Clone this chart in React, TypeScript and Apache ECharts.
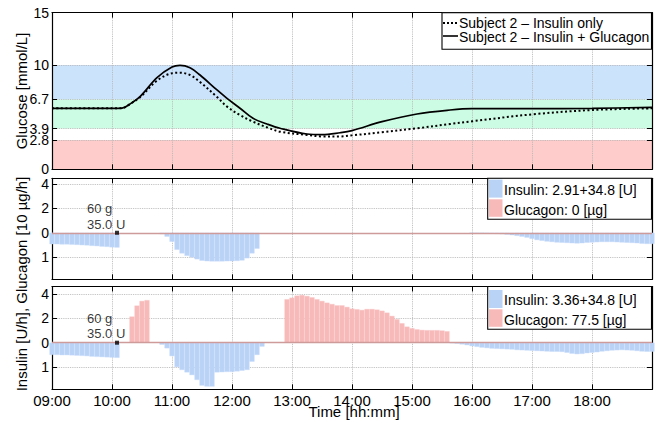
import React, { useEffect, useRef } from "react";
import * as echarts from "echarts";

const FONT = "'Liberation Sans', Arial, Helvetica, sans-serif";

// ---------------- data ----------------
const xTickLabels = ["09:00", "10:00", "11:00", "12:00", "13:00", "14:00", "15:00", "16:00", "17:00", "18:00"];
const glucoseTicks = [0, 2.8, 3.9, 6.7, 10, 15];
const rateTicks = [-2, 0, 2, 4]; // plotted positions; negative side is insulin (scaled x2)
const insulinScale = 2;

// glucose curves (mmol/L)
const glucoseTimes = ["09:00", "10:00", "10:10", "10:18", "10:28", "10:45", "11:00", "11:08", "11:18", "11:28", "11:45", "11:55", "12:08", "12:21", "12:35", "12:48", "13:15", "13:30", "13:48", "14:00", "14:30", "15:05", "15:38", "16:00", "17:00", "18:00", "19:00"];
const glucoseInsulinGlucagon = [5.84, 5.84, 5.86, 6.25, 6.96, 8.78, 9.8, 9.96, 9.73, 9.03, 7.6, 6.8, 5.85, 4.88, 4.34, 3.93, 3.38, 3.32, 3.5, 3.7, 4.56, 5.3, 5.68, 5.81, 5.81, 5.84, 5.94];
const glucoseInsulinOnly = [5.84, 5.84, 5.86, 6.25, 6.9, 8.49, 9.2, 9.25, 9.03, 8.36, 6.93, 6.0, 5.2, 4.56, 4.02, 3.6, 3.29, 3.15, 3.15, 3.25, 3.55, 3.93, 4.34, 4.6, 5.26, 5.68, 5.84];

// glycemic bands
const bandHypo = [0, 2.8];
const bandNormal = [3.9, 6.7];
const bandHigh = [6.7, 10];

// 5-minute rate samples (insulin U/h, glucagon 10 µg/h)
const midInsulinSeg1Start = "09:00";
const midInsulinSeg1 = [0.47, 0.47, 0.48, 0.48, 0.49, 0.5, 0.51, 0.52, 0.54, 0.55, 0.57, 0.58, 0.6, 0.61];
const midInsulinSeg2Start = "10:50";
const midInsulinSeg2 = [0.06, 0.16, 0.37, 0.7, 0.85, 0.95, 1.01, 1.09, 1.15, 1.17, 1.18, 1.18, 1.18, 1.17, 1.17, 1.16, 1.14, 1.05, 0.85, 0.66];
const midInsulinSeg3Start = "16:00";
const midInsulinSeg3 = [0.01, 0.015, 0.02, 0.03, 0.04, 0.05, 0.06, 0.08, 0.1, 0.13, 0.16, 0.2, 0.25, 0.3, 0.33, 0.36, 0.38, 0.4, 0.41, 0.42, 0.43, 0.44, 0.43, 0.41, 0.4, 0.39, 0.38, 0.38, 0.38, 0.39, 0.4, 0.41, 0.42, 0.43, 0.45, 0.46, 0.46];

const botInsulinSeg1Start = "09:00";
const botInsulinSeg1 = [0.5, 0.5, 0.51, 0.51, 0.52, 0.53, 0.54, 0.55, 0.57, 0.58, 0.59, 0.6, 0.61, 0.62];
const botInsulinSeg2Start = "10:50";
const botInsulinSeg2 = [0.08, 0.23, 0.55, 1.0, 1.12, 1.22, 1.33, 1.53, 1.76, 1.8, 1.8, 1.22, 1.21, 1.2, 1.2, 1.18, 1.15, 1.12, 0.78, 0.5, 0.16];
const botInsulinSeg3Start = "15:40";
const botInsulinSeg3 = [0.02, 0.04, 0.07, 0.1, 0.14, 0.17, 0.2, 0.22, 0.24, 0.25, 0.26, 0.27, 0.28, 0.3, 0.31, 0.32, 0.33, 0.34, 0.35, 0.36, 0.37, 0.37, 0.38, 0.41, 0.45, 0.47, 0.46, 0.43, 0.41, 0.39, 0.36, 0.34, 0.32, 0.31, 0.3, 0.31, 0.32, 0.34, 0.36, 0.37, 0.37];
const botGlucagonSeg1Start = "10:20";
const botGlucagonSeg1 = [2.15, 3.05, 3.43, 3.5];
const botGlucagonSeg2Start = "12:55";
const botGlucagonSeg2 = [3.57, 3.7, 3.87, 3.92, 3.84, 3.73, 3.57, 3.43, 3.29, 3.18, 3.07, 3.07, 2.94, 2.8, 2.75, 2.69, 2.77, 2.77, 2.72, 2.63, 2.47, 2.2, 1.93, 1.6, 1.32, 1.19, 1.1, 1.05, 1.03, 1.03, 1.03, 1.0, 0.94];

// meal / bolus annotation
const mealTime = "10:05";
const mealCarbs = "60 g";
const mealBolus = "35.0 U";

// legends
const topLegend = ["Subject 2 \u2013 Insulin only", "Subject 2 \u2013 Insulin + Glucagon"];
const midLegend = ["Insulin: 2.91+34.8 [U]", "Glucagon: 0 [\u00b5g]"];
const botLegend = ["Insulin: 3.36+34.8 [U]", "Glucagon: 77.5 [\u00b5g]"];

// ---------------- helpers ----------------
const toHours = (s: string) => {
  const [h, m] = s.split(":").map(Number);
  return h + m / 60;
};
const STEP_H = 5 / 60;
const seg = (start: string, vals: number[], scale: number) =>
  vals.map((v, i) => [toHours(start) + i * STEP_H, v * scale]);

const COL_INS = "#b9d3f7";
const COL_INS_EDGE = "#c7dcf9";
const COL_GLU = "#f8b9b9";
const COL_GLU_EDGE = "#fac8c8";

export default function App() {
  const ref = useRef<HTMLDivElement>(null);

  useEffect(() => {
    if (!ref.current) return;
    const chart = echarts.init(ref.current, undefined, { renderer: "svg" });

    const grids = [
      { left: 52, top: 12.7, width: 600, height: 156.6 },
      { left: 52, top: 178.3, width: 600, height: 101 },
      { left: 52, top: 286.5, width: 600, height: 102.8 },
    ];
    const yRanges = [
      [0, 15],
      [-3.83, 4.48],
      [-3.83, 4.62],
    ];

    const axisLine = { show: true, onZero: false, lineStyle: { color: "#000", width: 1.2 } };
    const gridLine = { show: true, lineStyle: { color: "#b5b5b5", type: "dotted", width: 0.9 } };

    const xAxis: any[] = [];
    const yAxis: any[] = [];
    grids.forEach((_, g) => {
      xAxis.push({
        type: "value", gridIndex: g, min: 9, max: 19, interval: 1, position: "bottom",
        axisLine, axisTick: { show: true, inside: true, length: 5, lineStyle: { color: "#000" } },
        splitLine: gridLine,
        axisLabel: g === 2
          ? { show: true, color: "#000", fontSize: 15, fontFamily: FONT, margin: 4,
              formatter: (v: number) => xTickLabels[Math.round(v - 9)] ?? "" }
          : { show: false },
      });
      xAxis.push({
        type: "value", gridIndex: g, min: 9, max: 19, interval: 1, position: "top",
        axisLine, axisTick: { show: true, inside: true, length: 5, lineStyle: { color: "#000" } },
        splitLine: { show: false }, axisLabel: { show: false },
      });
      const ticks = g === 0 ? glucoseTicks : rateTicks;
      const fmt = g === 0
        ? (v: number) => String(v)
        : (v: number) => (v < 0 ? String(-v / insulinScale) : String(v));
      yAxis.push({
        type: "value", gridIndex: g, min: yRanges[g][0], max: yRanges[g][1], position: "left",
        axisLine,
        axisTick: { show: true, inside: true, length: 5, customValues: ticks, lineStyle: { color: "#000" } },
        axisLabel: { show: true, customValues: ticks, formatter: fmt, color: "#000", fontSize: 14, fontFamily: FONT, margin: 3 },
        splitLine: gridLine,
      });
      yAxis.push({
        type: "value", gridIndex: g, min: yRanges[g][0], max: yRanges[g][1], position: "right",
        axisLine,
        axisTick: { show: true, inside: true, length: 5, customValues: ticks, lineStyle: { color: "#000" } },
        axisLabel: { show: false }, splitLine: { show: false },
      });
    });

    const glucosePairs = (vals: number[]) => glucoseTimes.map((t, i) => [toHours(t), vals[i]]);

    const barBase = (name: string, color: string, edge: string, xi: number, data: number[][]) => ({
      name, type: "bar", xAxisIndex: xi, yAxisIndex: xi, barWidth: 5, barGap: "-100%",
      itemStyle: { color, borderColor: edge, borderWidth: 0.4 }, data, z: 2,
    });
    const zeroLine = {
      silent: true, symbol: "none", label: { show: false },
      lineStyle: { color: "#cf9a9a", width: 1.3, type: "solid" }, data: [{ yAxis: 0 }],
    };
    const mealMarker = (xi: number, name: string) => ({
      name, type: "scatter", xAxisIndex: xi, yAxisIndex: xi, symbol: "rect", symbolSize: 4,
      itemStyle: { color: "#000" }, z: 10,
      data: [[toHours(mealTime), 0]],
      label: {
        show: true, formatter: `${mealCarbs}\n${mealBolus}`, position: [-28, -30],
        align: "left", verticalAlign: "top", fontSize: 13, lineHeight: 15.5, color: "#000", fontFamily: FONT,
      },
    });

    const series: any[] = [
      {
        name: "bands", type: "line", xAxisIndex: 0, yAxisIndex: 0, data: [], z: -5, silent: true,
        markArea: {
          silent: true, z: -5,
          data: [
            [{ yAxis: bandHypo[0], itemStyle: { color: "#ffcccc" } }, { yAxis: bandHypo[1] }],
            [{ yAxis: bandNormal[0], itemStyle: { color: "#ccfce3" } }, { yAxis: bandNormal[1] }],
            [{ yAxis: bandHigh[0], itemStyle: { color: "#cce3fc" } }, { yAxis: bandHigh[1] }],
          ],
        },
      },
      {
        name: topLegend[0], type: "line", xAxisIndex: 0, yAxisIndex: 0, showSymbol: false, smooth: 0.35,
        lineStyle: { color: "#000", width: 2, type: [2, 2.5] }, data: glucosePairs(glucoseInsulinOnly), z: 4,
      },
      {
        name: topLegend[1], type: "line", xAxisIndex: 0, yAxisIndex: 0, showSymbol: false, smooth: 0.35,
        lineStyle: { color: "#000", width: 1.7 }, data: glucosePairs(glucoseInsulinGlucagon), z: 5,
      },
      barBase(midLegend[0], COL_INS, COL_INS_EDGE, 2, [
        ...seg(midInsulinSeg1Start, midInsulinSeg1, -insulinScale),
        ...seg(midInsulinSeg2Start, midInsulinSeg2, -insulinScale),
        ...seg(midInsulinSeg3Start, midInsulinSeg3, -insulinScale),
      ]),
      { ...barBase(midLegend[1], COL_GLU, COL_GLU_EDGE, 2, []), markLine: zeroLine },
      mealMarker(2, "meal1"),
      barBase(botLegend[0], COL_INS, COL_INS_EDGE, 4, [
        ...seg(botInsulinSeg1Start, botInsulinSeg1, -insulinScale),
        ...seg(botInsulinSeg2Start, botInsulinSeg2, -insulinScale),
        ...seg(botInsulinSeg3Start, botInsulinSeg3, -insulinScale),
      ]),
      { ...barBase(botLegend[1], COL_GLU, COL_GLU_EDGE, 4, [
        ...seg(botGlucagonSeg1Start, botGlucagonSeg1, 1),
        ...seg(botGlucagonSeg2Start, botGlucagonSeg2, 1),
      ]), markLine: zeroLine },
      mealMarker(4, "meal2"),
    ];

    const txt = (x: number, y: number, text: string, size = 14) => ({
      type: "text", x, y, z: 101,
      style: { text, fontSize: size, fontFamily: FONT, fill: "#000", align: "left", verticalAlign: "middle" },
    });
    const box = (x: number, y: number, w: number, h: number) => ({
      type: "rect", z: 100, shape: { x, y, width: w, height: h },
      style: { fill: "#fff", stroke: "#000", lineWidth: 1.1 },
    });
    const square = (x: number, y: number, w: number, h: number, fill: string) => ({
      type: "rect", z: 101, shape: { x, y, width: w, height: h }, style: { fill },
    });

    const graphic: any[] = [
      // top legend
      box(442, 12.7, 209.5, 36.6),
      { type: "line", z: 101, shape: { x1: 443, y1: 23, x2: 458, y2: 23 }, style: { stroke: "#000", lineWidth: 1.8, lineDash: [2, 2] } },
      { type: "line", z: 101, shape: { x1: 443, y1: 36, x2: 458, y2: 36 }, style: { stroke: "#000", lineWidth: 1.6 } },
      txt(459, 23, topLegend[0]),
      txt(459, 36.5, topLegend[1]),
      // middle legend
      box(487.7, 178.3, 163.8, 41),
      square(489, 179.6, 13.5, 18, COL_INS),
      square(489, 199.3, 13.5, 17.5, COL_GLU),
      txt(504, 189.5, midLegend[0]),
      txt(504, 209.5, midLegend[1]),
      // bottom legend
      box(487.7, 286.5, 163.8, 42.8),
      square(489, 290, 13.5, 18, COL_INS),
      square(489, 309.3, 13.5, 17.5, COL_GLU),
      txt(504, 299.5, botLegend[0]),
      txt(504, 319.5, botLegend[1]),
      // axis titles
      { type: "text", x: 21, y: 91, rotation: Math.PI / 2, z: 101,
        style: { text: "Glucose [mmol/L]", fontSize: 15, fontFamily: FONT, fill: "#000", align: "center", verticalAlign: "middle" } },
      { type: "text", x: 21, y: 284, rotation: Math.PI / 2, z: 101,
        style: { text: "Insulin [U/h], Glucagon [10 \u00b5g/h]", fontSize: 15, fontFamily: FONT, fill: "#000", align: "center", verticalAlign: "middle" } },
      { type: "text", x: 354, y: 411.5, z: 101,
        style: { text: "Time [hh:mm]", fontSize: 15, fontFamily: FONT, fill: "#000", align: "center", verticalAlign: "middle" } },
    ];

    chart.setOption({
      animation: false,
      backgroundColor: "#fff",
      textStyle: { fontFamily: FONT },
      grid: grids.map((g) => ({ ...g, containLabel: false })),
      xAxis,
      yAxis,
      series,
      graphic,
    });

    return () => chart.dispose();
  }, []);

  return <div ref={ref} style={{ position: "fixed", left: 0, top: 0, width: 657, height: 423 }} />;
}
